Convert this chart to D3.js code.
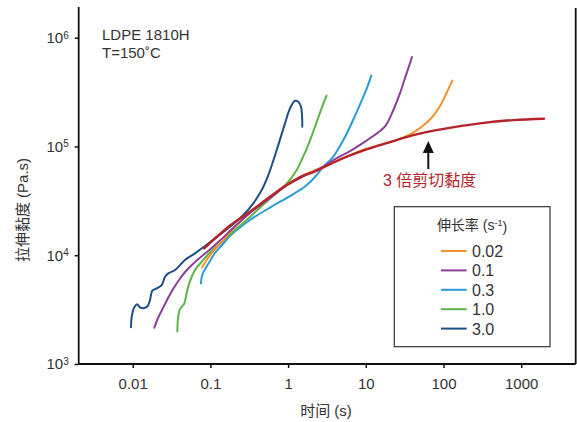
<!DOCTYPE html>
<html>
<head>
<meta charset="utf-8">
<script src="https://cdn.jsdelivr.net/npm/d3@7"></script>
<style>
  html, body { margin: 0; padding: 0; background: #fff; }
  svg { display: block; }
  text { font-family: "Liberation Sans", "Noto Sans CJK SC", sans-serif; fill: #333; }
</style>
</head>
<body>
<svg id="chart" width="577" height="422"></svg>
<script>
// Extensional viscosity growth of LDPE 1810H at 150 °C, per strain rate
const rateLabels = ["0.02", "0.1", "0.3", "1.0", "3.0"];
const rateColors = ["#f0912c", "#8c3f98", "#2b9bd8", "#5cb447", "#1d4f86"];

// time (s) and viscosity (Pa.s) pairs
const rate002 = [[0.0780,7709],[0.0878,8845],[0.1018,10260],[0.1216,11900],[0.1496,13940],[0.1897,17050],[0.2404,20190],[0.3233,24900],[0.5848,34250],[0.9594,44500],[1.569,54300],[3.462,69200],[5.678,80800],[9.204,92660],[15.24,103000],[21.74,110900],[30.12,120700],[41.72,135700],[56.1,157300],[73.26,190300],[90.2,235100],[107.7,303100],[129.8,403400]];
const rate01 = [[0.01897,2156],[0.02116,2647],[0.02383,3135],[0.02763,3875],[0.03253,4787],[0.03944,5916],[0.04853,7157],[0.06151,8478],[0.0780,9832],[0.0988,11280],[0.1329,13650],[0.1897,17410],[0.3233,24430],[0.5848,33550],[0.9594,43800],[1.569,53000],[2.706,63970],[4.015,76610],[6.262,90720],[9.766,110900],[15.24,138500],[18.2,157300],[21.74,202800],[27.55,309600],[32.92,453100],[39.33,663200]];
const rate03 = [[0.07568,5495],[0.07682,6171],[0.08031,6862],[0.0878,7709],[0.0988,8845],[0.1146,10480],[0.141,12410],[0.1788,15020],[0.3233,21060],[0.5848,27440],[1.058,35010],[1.65,42800],[2.219,52340],[2.813,64690],[3.784,79910],[4.656,100900],[5.73,132800],[7.051,182400],[8.674,255900],[10.21,337000],[11.77,448400]];
const rate10 = [[0.0375,1990],[0.03795,2432],[0.03885,2821],[0.04062,3202],[0.04375,3413],[0.04642,3637],[0.04853,4217],[0.05224,5212],[0.05797,6439],[0.06527,7548],[0.07568,8569],[0.0988,10590],[0.141,13220],[0.2073,17050],[0.3233,22450],[0.5043,30190],[0.7866,39740],[0.9678,46090],[1.122,52340],[1.302,61340],[1.51,76610],[1.751,96660],[2.03,127300],[2.354,171200],[2.731,230200],[3.12,293700]];
const rate30 = [[0.00951,2175],[0.00971,2720],[0.01049,3320],[0.01136,3538],[0.01241,3320],[0.0141,3270],[0.0156,3413],[0.0167,3875],[0.01788,4717],[0.02037,4963],[0.02361,5323],[0.02604,6344],[0.02872,6817],[0.03502,7311],[0.04272,8425],[0.0471,9035],[0.06334,10410],[0.08518,12150],[0.1146,14300],[0.1788,18280],[0.2651,23420],[0.3565,29990],[0.4572,39740],[0.5561,54590],[0.7134,92680],[0.9122,163100],[1.058,223900],[1.227,263000],[1.353,257500],[1.466,231700],[1.523,151800]];
// three times the shear viscosity growth
const shear3 = [[0.0834,11570],[0.1788,18750],[0.3233,25110],[0.5848,34490],[0.9594,44180],[1.569,54020],[2.110,58170],[3.462,68880],[5.678,80410],[9.204,91690],[15.24,103000],[24.84,114500],[40.87,127300],[109.9,146700],[294.9,163100],[791.2,174800],[1966,179800]];

const xTicks = [0.01, 0.1, 1, 10, 100, 1000];
const xTickLabels = ["0.01", "0.1", "1", "10", "100", "1000"];
const yTicks = [1e3, 1e4, 1e5, 1e6];
const yTickExps = ["3", "4", "5", "6"];

const seriesData = [rate002, rate01, rate03, rate10, rate30];

const svg = d3.select("#chart");
const plotLeft = 78.7, plotRight = 575.7, plotTop = 7, plotBottom = 364;

const x = d3.scaleLog().domain([Math.pow(10, -2.695), Math.pow(10, 3.7014)]).range([plotLeft, plotRight]);
const y = d3.scaleLog().domain([1e3, Math.pow(10, 6.2822)]).range([plotBottom, plotTop]);

const line = d3.line()
  .x(d => x(d[0]))
  .y(d => y(d[1]))
  .curve(d3.curveCatmullRom.alpha(0.5));

// curves: draw from slowest rate upward so the fast ones sit on top
const order = [2, 3, 0, 1, 4];
order.forEach(i => {
  svg.append("path")
    .attr("d", line(seriesData[i]))
    .attr("fill", "none")
    .attr("stroke", rateColors[i])
    .attr("stroke-width", 2)
    .attr("stroke-linejoin", "round")
    .attr("stroke-linecap", "round");
});
svg.append("path")
  .attr("d", line(shear3))
  .attr("fill", "none")
  .attr("stroke", "#b5232b")
  .attr("stroke-width", 2.4)
  .attr("stroke-linecap", "round");

// axes
const xAxis = d3.axisBottom(x)
  .tickValues(xTicks)
  .tickFormat((d, i) => xTickLabels[i])
  .tickSize(4)
  .tickPadding(10)
  .tickSizeOuter(0);
const gx = svg.append("g").attr("transform", `translate(0,${plotBottom})`).call(xAxis);

const yAxis = d3.axisLeft(y)
  .tickValues(yTicks)
  .tickFormat(() => "")
  .tickSize(4)
  .tickSizeOuter(0);
const gy = svg.append("g").attr("transform", `translate(${plotLeft},0)`).call(yAxis);

[gx, gy].forEach(g => {
  g.select(".domain").attr("stroke", "#111").attr("stroke-width", 1.8);
  g.selectAll(".tick line").attr("stroke", "#111").attr("stroke-width", 1.5);
  g.selectAll("text").attr("font-size", 15).attr("fill", "#333")
    .style("font-family", "'Liberation Sans', sans-serif");
});
gx.select(".domain").attr("d", `M${plotLeft},0H${plotRight}`);
gy.select(".domain").attr("d", `M0,${plotTop}V${plotBottom}`);

// y tick labels as powers of ten
gy.selectAll(".tick text").each(function(d, i) {
  const t = d3.select(this).attr("x", -10);
  t.append("tspan").text("10");
  t.append("tspan").attr("dy", "-0.45em").attr("font-size", 10).text(yTickExps[i]);
});

// right border
svg.append("line")
  .attr("x1", plotRight).attr("x2", plotRight).attr("y1", plotTop + 1).attr("y2", plotBottom)
  .attr("stroke", "#111").attr("stroke-width", 1.8);

// axis titles
svg.append("text")
  .attr("x", 326).attr("y", 416)
  .attr("text-anchor", "middle").attr("font-size", 15)
  .text("时间 (s)");
svg.append("text")
  .attr("transform", "translate(28,210) rotate(-90)")
  .attr("text-anchor", "middle").attr("font-size", 15)
  .text("拉伸黏度 (Pa.s)");

// material note
svg.append("text").attr("x", 102).attr("y", 40).attr("font-size", 15).text("LDPE 1810H");
svg.append("text").attr("x", 102).attr("y", 58).attr("font-size", 15).text("T=150˚C");

// shear reference label and arrow
svg.append("text")
  .attr("x", 383).attr("y", 186).attr("font-size", 16)
  .style("fill", "#b5232b")
  .text("3 倍剪切黏度");
const ax = 428.3;
svg.append("line")
  .attr("x1", ax).attr("x2", ax).attr("y1", 169).attr("y2", 150)
  .attr("stroke", "#111").attr("stroke-width", 2);
svg.append("path")
  .attr("d", `M${ax},141L${ax + 5.5},153L${ax - 5.5},153Z`)
  .attr("fill", "#111");

// legend
const lg = svg.append("g");
lg.append("rect")
  .attr("x", 394.3).attr("y", 206.7).attr("width", 155.7).attr("height", 140)
  .attr("fill", "#fff").attr("stroke", "#333").attr("stroke-width", 1.2);
const title = lg.append("text")
  .attr("x", 472).attr("y", 229.5).attr("text-anchor", "middle").attr("font-size", 14);
title.append("tspan").text("伸长率 (s");
title.append("tspan").attr("dy", "-0.4em").attr("font-size", 9).text("-1");
title.append("tspan").attr("dy", "0.4em").text(")");

rateLabels.forEach((lab, i) => {
  const yy = 251 + i * 19.4;
  lg.append("line")
    .attr("x1", 441).attr("x2", 466.7).attr("y1", yy).attr("y2", yy)
    .attr("stroke", rateColors[i]).attr("stroke-width", 2);
  lg.append("text")
    .attr("x", 472).attr("y", yy + 6).attr("font-size", 16)
    .text(lab);
});
</script>
</body>
</html>
